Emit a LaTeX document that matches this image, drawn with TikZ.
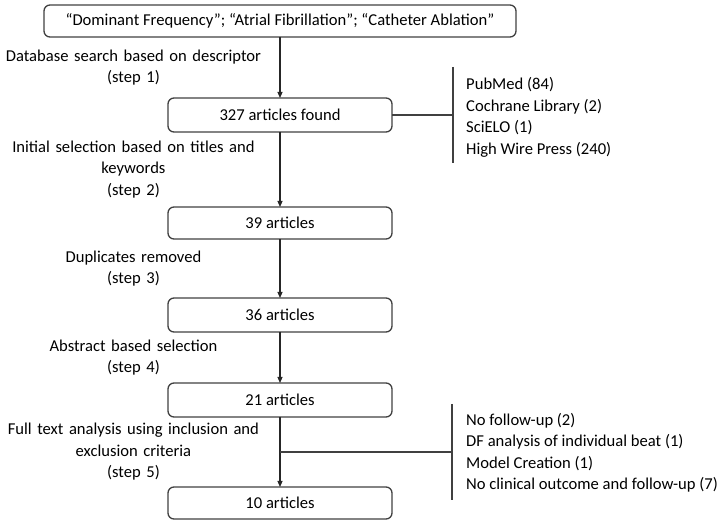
\documentclass[tikz,border=0pt]{standalone}
\usepackage{fontspec}
\setmainfont{Carlito}
\usepackage{xcolor}
\usepackage{tikz}
\usetikzlibrary{positioning,arrows.meta,calc}
\definecolor{edge}{HTML}{404040}

\begin{document}
\begin{tikzpicture}[
    node distance=60pt,
    font=\fontsize{16.6}{21.5}\selectfont,
    stage/.style={draw=edge, line width=1.3pt, rounded corners=6pt, minimum width=224pt, minimum height=34pt, align=center, inner sep=0pt, outer sep=0pt},
    query/.style={stage, minimum width=472pt, minimum height=32pt},
    steplbl/.style={text width=260pt, align=center, inner sep=0pt},
    reasons/.style={align=left, inner sep=0pt, anchor=west},
    arr/.style={-{Triangle[length=6pt,width=5pt]}, line width=1.1pt, draw=black!85},
    bar/.style={line width=1.1pt, draw=edge}
]
    \useasboundingbox (0pt,0pt) rectangle (721pt,-521pt);

    % Main flow
    \node[query] (search) at (280pt,-21pt) {“Dominant Frequency”; “Atrial Fibrillation”; “Catheter Ablation”};
    \node[stage, below=61pt of search] (found) {327 articles found};
    \node[stage, below=75pt of found, minimum height=32pt] (sel39) {39 articles};
    \node[stage, below=59pt of sel39] (sel36) {36 articles};
    \node[stage, below=51pt of sel36] (sel21) {21 articles};
    \node[stage, below=70pt of sel21, minimum height=32pt] (final) {10 articles};

    % Steps
    \draw[arr] (search) -- (found) node[midway, left=16pt, steplbl] {Database search based on descriptor\\(step 1)};
    \draw[arr] (found) -- (sel39) node[midway, left=16pt, steplbl] {Initial selection based on titles and\\keywords\\(step 2)};
    \draw[arr] (sel39) -- (sel36) node[midway, left=16pt, steplbl] {Duplicates removed\\(step 3)};
    \draw[arr] (sel36) -- (sel21) node[midway, left=16pt, steplbl] {Abstract based selection\\(step 4)};
    \draw[arr] (sel21) -- (final) node[midway, left=16pt, steplbl] {Full text analysis using inclusion and\\exclusion criteria\\(step 5)};

    % Databases
    \coordinate[right=61pt of found.east] (srcjoin);
    \coordinate[above=48pt of srcjoin] (srctop);
    \coordinate[below=48pt of srcjoin] (srcbot);
    \draw[bar] (found) -- (srcjoin);
    \draw[bar] (srctop) -- (srcbot);
    \node[reasons, right=13pt of srcjoin, yshift=-2.5pt] (sources) {PubMed (84)\\Cochrane Library (2)\\SciELO (1)\\High Wire Press (240)};

    % Exclusions
    \coordinate (exjoin) at ($(sel21.south)!0.5!(final.north)$);
    \coordinate[right=172pt of exjoin] (exbar);
    \coordinate[above=48pt of exbar] (extop);
    \coordinate[below=48pt of exbar] (exbot);
    \draw[bar] (exjoin) -- (exbar);
    \draw[bar] (extop) -- (exbot);
    \node[reasons, right=14pt of exbar, yshift=-1pt] (excluded) {No follow-up (2)\\DF analysis of individual beat (1)\\Model Creation (1)\\No clinical outcome and follow-up (7)};
\end{tikzpicture}
\end{document}
